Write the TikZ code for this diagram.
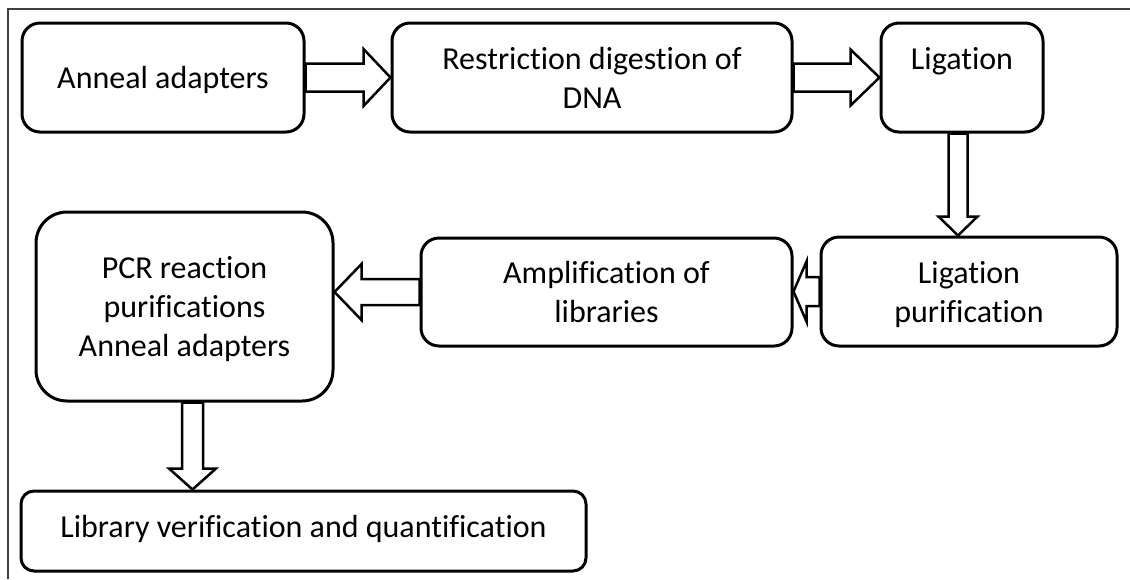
\documentclass[tikz,border=0pt]{standalone}
\usepackage{fontspec}
\setmainfont{Carlito}[Ligatures=NoCommon]
\usepackage{tikz}
\usetikzlibrary{calc,positioning}

\newcommand{\blockarrow}[5]{%
  \path (#1) coordinate (ba-s) (#2) coordinate (ba-e);
  \path ($(ba-e)!#5!(ba-s)$) coordinate (ba-h);
  \draw[blockarrow] ($(ba-s)!#3!90:(ba-e)$) -- ($(ba-h)!#3!90:(ba-e)$)
    -- ($(ba-h)!#4!90:(ba-e)$) -- (ba-e) -- ($(ba-h)!#4!-90:(ba-e)$)
    -- ($(ba-h)!#3!-90:(ba-e)$) -- ($(ba-s)!#3!-90:(ba-e)$) -- cycle;}

\begin{document}
\begin{tikzpicture}[
    x=1pt, y=-1pt,
    stepbox/.style={draw, line width=3pt, rounded corners=18pt, align=center,
      inner sep=0pt, text depth=0pt, font=\fontsize{32pt}{39pt}\selectfont},
    blockarrow/.style={draw, fill=white, line width=2.5pt, line join=miter},
    frame/.style={draw=black!75, line width=2pt}
  ]
  \useasboundingbox (0,0) rectangle (1130,579);
  \draw[frame] (8,579) -- (8,9) -- (1130,9);

  \node[stepbox, minimum width=282pt, minimum height=109pt] (anneal)
    at (163,77.5) {Anneal adapters};

  \node[stepbox, minimum width=400pt, minimum height=109pt] (digest)
    at (592,77.5) {Restriction digestion of\\DNA};

  \node[stepbox, minimum width=162pt, minimum height=109pt] (lig)
    at (962,77.5) {Ligation\\\mbox{}};

  \node[stepbox, minimum width=296pt, minimum height=109pt] (ligpur)
    at (969,291.5) {Ligation\\purification};

  \node[stepbox, minimum width=371pt, minimum height=108pt] (amp)
    at (606.5,292) {Amplification of\\libraries};

  \node[stepbox, minimum width=297pt, minimum height=189pt,
    rounded corners=31pt] (pcr)
    at (184.5,306.5) {PCR reaction\\purifications\\Anneal adapters};

  \node[stepbox, minimum width=565pt, minimum height=80pt,
    rounded corners=13pt, text depth=10pt] (libver)
    at (303.5,531) {Library verification and quantification};

  \coordinate (ligout) at ([xshift=-4pt]lig.south);
  \coordinate (pcrout) at ([xshift=8pt]pcr.south);

  \blockarrow{anneal.east}{anneal.east -| digest.west}{14pt}{28.5pt}{27pt}
  \blockarrow{digest.east}{digest.east -| lig.west}{14pt}{28pt}{29pt}
  \blockarrow{ligout}{ligout |- ligpur.north}{9.5pt}{19.5pt}{19pt}
  \blockarrow{ligpur.west}{ligpur.west -| amp.east}{14.5pt}{30pt}{13pt}
  \blockarrow{amp.west}{amp.west -| pcr.east}{13pt}{28pt}{27pt}
  \blockarrow{pcrout}{pcrout |- libver.north}{10.5pt}{23.5pt}{21pt}
\end{tikzpicture}
\end{document}
